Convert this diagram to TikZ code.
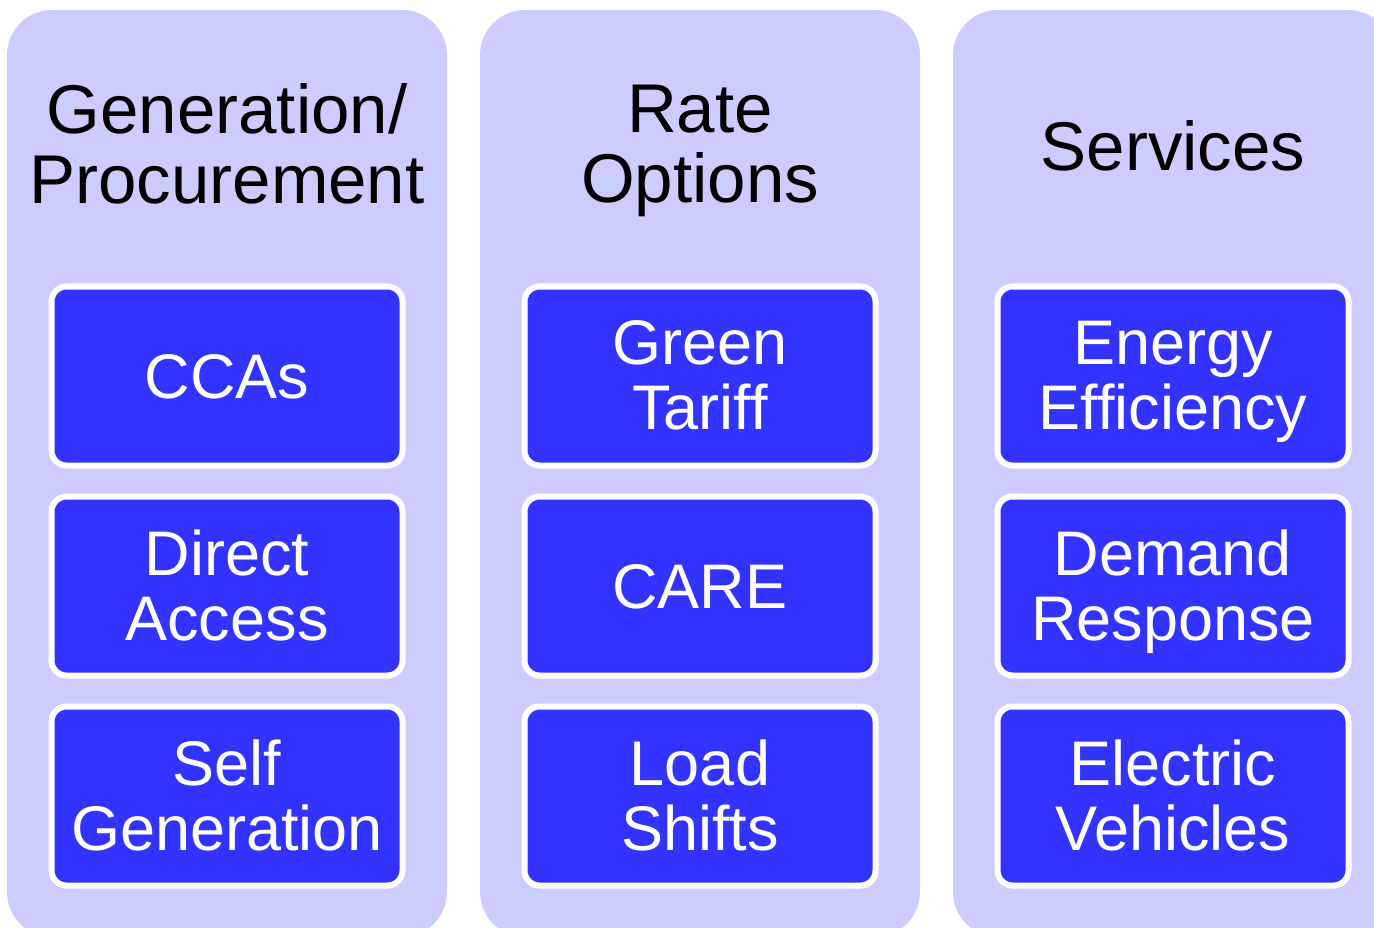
\documentclass[tikz,border=0pt]{standalone}
\usepackage{fontspec}
\setmainfont{Liberation Sans}
\definecolor{lav}{HTML}{CCCCFF}
\definecolor{blu}{HTML}{3333FF}
\begin{document}
\begin{tikzpicture}[x=1pt,y=-1pt,
  col/.style={fill=lav, rounded corners=45pt, minimum width=440pt, minimum height=927pt, inner sep=0pt},
  item/.style={draw=white, line width=6pt, fill=blu, rounded corners=15pt, minimum width=351pt, minimum height=179pt, inner sep=0pt},
  itext/.style={text=white, font=\fontsize{63}{65}\selectfont, align=center, inner sep=0pt,
    execute at begin node={\rule{0pt}{63.1pt}}, execute at end node={\rule[-18pt]{0pt}{0pt}}},
  head/.style={font=\fontsize{69}{70}\selectfont, align=center, text=black, inner sep=0pt,
    execute at begin node={\rule{0pt}{69.4pt}}, execute at end node={\rule[-20pt]{0pt}{0pt}}},
  twoline/.style={yshift=-8.5pt}]
\useasboundingbox (0,0) rectangle (1374,928);
\begin{scope}
\clip (0,0) rectangle (1374,928);
\node[col] (c1) at (227,473.5) {};
\node[col] (c2) at (700,473.5) {};
\node[col] (c3) at (1173,473.5) {};
\end{scope}
\node[head,twoline] (h1) at (227,145.5) {Generation/\\Procurement};
\node[head,twoline] (h2) at (700,145.5) {Rate\\Options};
\node[head] (h3) at (1173,145.5) {Services};
\node[item,label={[itext]center:CCAs}] (a1) at (227,376) {};
\node[item,label={[itext,twoline]center:Direct\\Access}] (a2) at (227,586) {};
\node[item,label={[itext,twoline]center:Self\\Generation}] (a3) at (227,796) {};
\node[item,label={[itext,twoline]center:Green\\Tariff}] (b1) at (700,376) {};
\node[item,label={[itext]center:CARE}] (b2) at (700,586) {};
\node[item,label={[itext,twoline]center:Load\\Shifts}] (b3) at (700,796) {};
\node[item,label={[itext,twoline]center:Energy\\Efficiency}] (d1) at (1173,376) {};
\node[item,label={[itext,twoline]center:Demand\\Response}] (d2) at (1173,586) {};
\node[item,label={[itext,twoline]center:Electric\\Vehicles}] (d3) at (1173,796) {};
\end{tikzpicture}
\end{document}
